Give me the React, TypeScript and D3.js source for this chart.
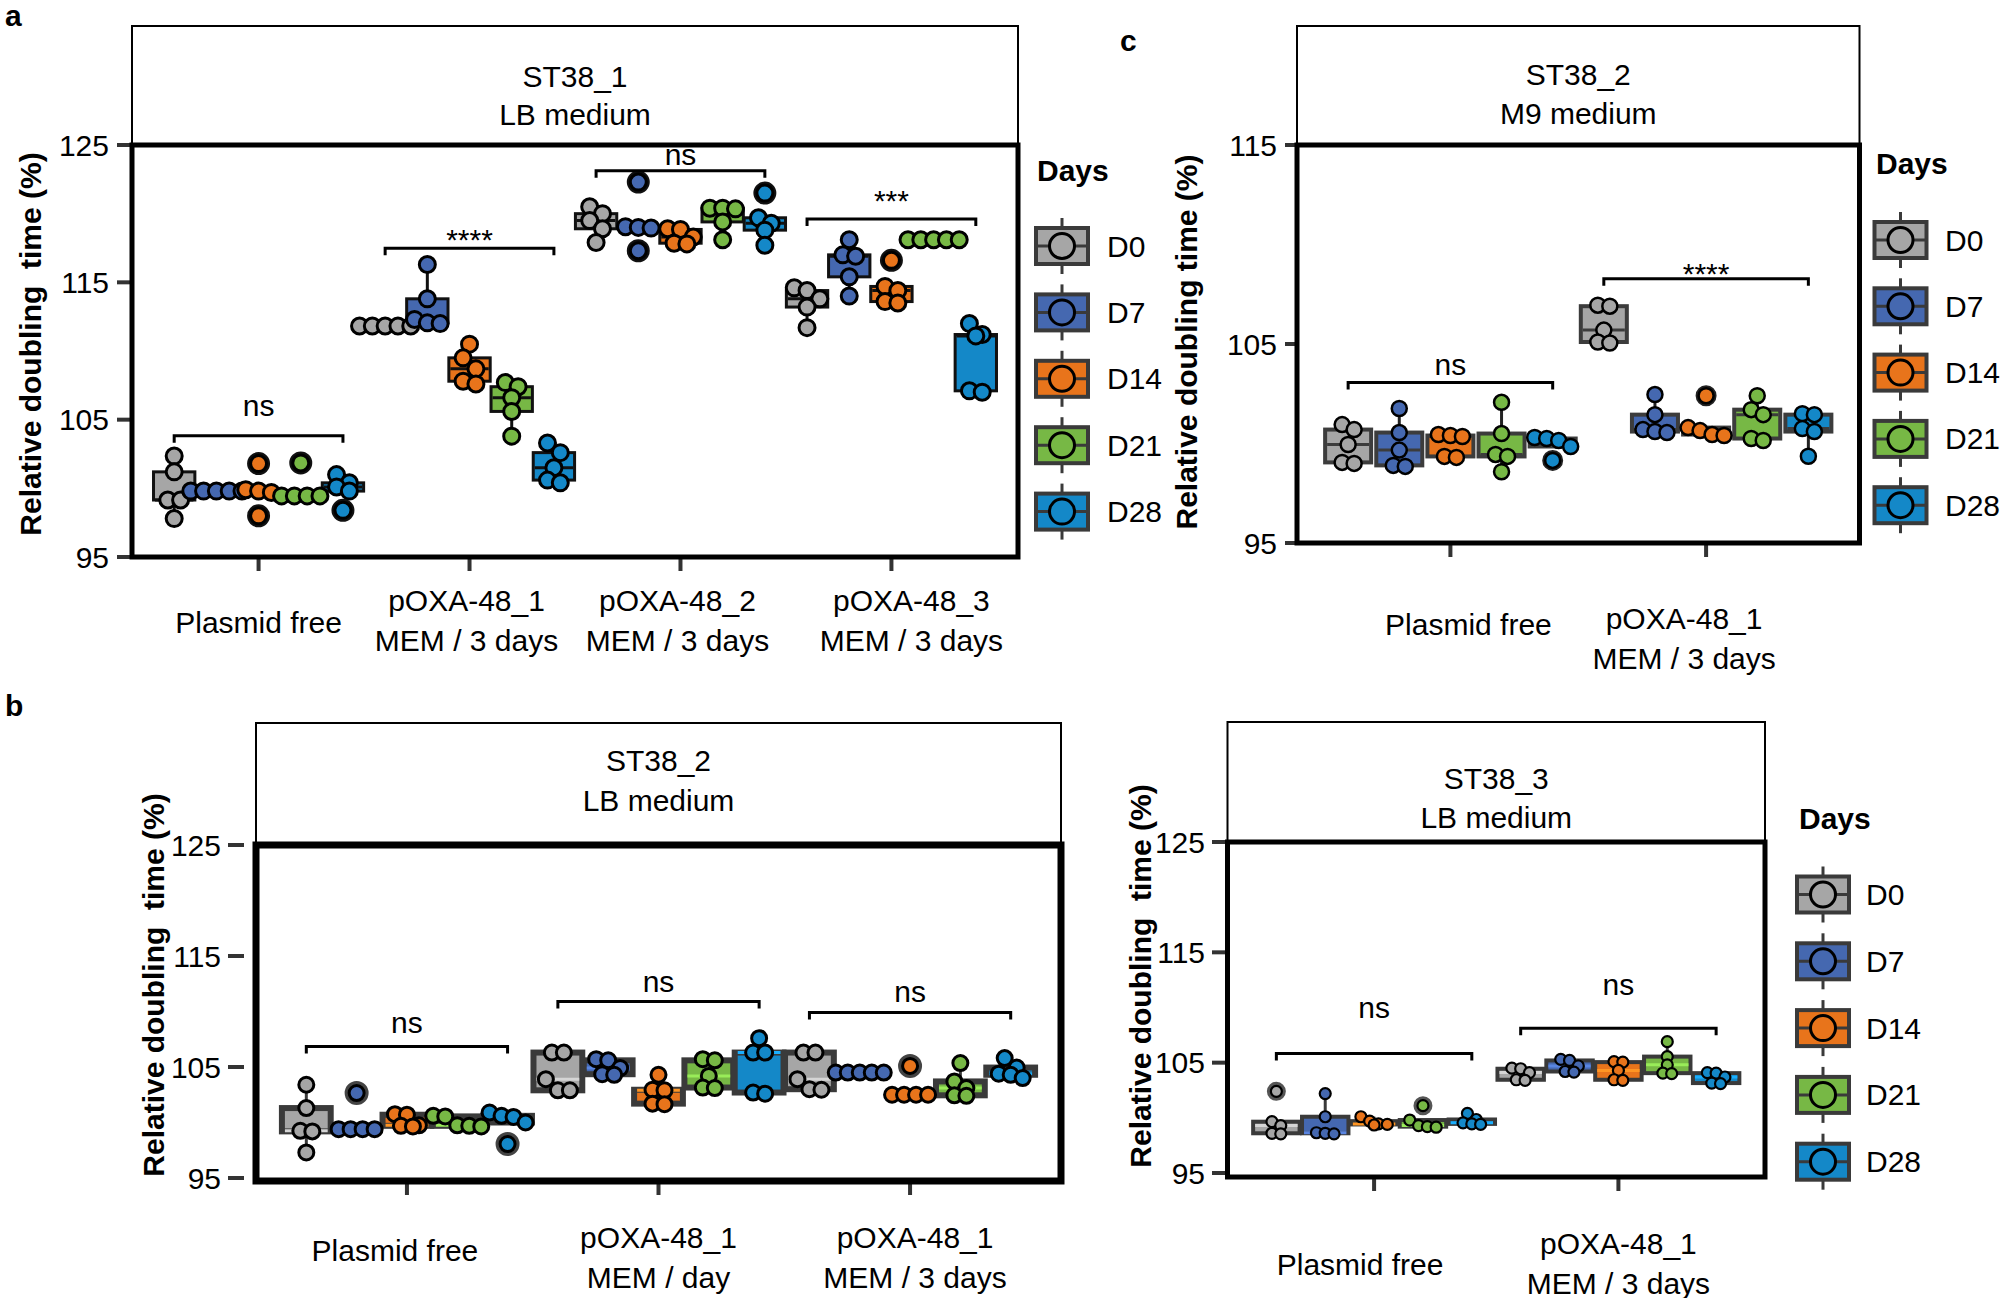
import * as d3 from "d3";

const FONT = "'Liberation Sans', Arial, Helvetica, sans-serif";

// ---- shared ----
const days = ["D0", "D7", "D14", "D21", "D28"];
const dayColors = ["#a6a6a6", "#4568b0", "#e8741b", "#77b845", "#1488c8"];

// ---- panel a : ST38_1, LB medium ----
const aCategories = [["Plasmid free"], ["pOXA-48_1", "MEM / 3 days"], ["pOXA-48_2", "MEM / 3 days"], ["pOXA-48_3", "MEM / 3 days"]];
const aTicks = [95, 105, 115, 125];
const aValues = [
  [[102.35, 101.2, 99.15, 99.15, 97.8], [99.8, 99.8, 99.8, 99.8, 99.8], [101.8, 99.9, 99.8, 99.7, 98.0], [101.85, 99.45, 99.45, 99.45, 99.45], [101.0, 100.4, 100.1, 99.8, 98.4]],
  [[111.82, 111.82, 111.82, 111.82, 111.82], [116.3, 113.8, 112.3, 112.05, 112.0], [110.5, 109.5, 108.7, 107.8, 107.6], [107.7, 107.4, 106.6, 105.6, 103.8], [103.3, 102.6, 101.5, 100.6, 100.4]],
  [[120.5, 120.0, 119.5, 118.9, 117.9], [122.3, 119.05, 119.0, 118.95, 117.3], [118.9, 118.85, 118.3, 117.85, 117.8], [120.4, 120.4, 120.35, 119.4, 118.1], [121.5, 119.7, 119.3, 118.8, 117.7]],
  [[114.6, 114.4, 113.8, 113.2, 111.7], [118.1, 117.0, 116.9, 115.4, 114.0], [116.6, 114.7, 114.4, 113.6, 113.5], [118.1, 118.1, 118.1, 118.1, 118.1], [112.0, 111.2, 111.1, 107.1, 107.0]],
];
const aSignif = [
  { cat: 0, y: 103.83, labelY: 105.26, label: "ns" },
  { cat: 1, y: 117.48, labelY: 117.35, label: "****" },
  { cat: 2, y: 123.13, labelY: 123.54, label: "ns" },
  { cat: 3, y: 119.61, labelY: 120.19, label: "***" },
];

// ---- panel c : ST38_2, M9 medium ----
const cCategories = [["Plasmid free"], ["pOXA-48_1", "MEM / 3 days"]];
const cTicks = [95, 105, 115];
const cValues = [
  [[100.95, 100.7, 99.95, 99.05, 99.0], [101.76, 100.55, 99.67, 98.9, 98.85], [100.45, 100.4, 100.35, 99.35, 99.3], [102.07, 100.5, 99.45, 99.35, 98.58], [100.3, 100.25, 100.15, 99.85, 99.15]],
  [[106.95, 106.9, 105.7, 105.1, 105.05], [102.46, 101.45, 100.7, 100.6, 100.55], [102.4, 100.8, 100.65, 100.45, 100.4], [102.4, 101.7, 101.45, 100.25, 100.15], [101.5, 101.45, 100.75, 100.6, 99.36]],
];
const cSignif = [
  { cat: 0, y: 103.07, labelY: 103.44, label: "ns" },
  { cat: 1, y: 108.28, labelY: 108.03, label: "****" },
];

// ---- panel b (left) : ST38_2, LB medium ----
const bCategories = [["Plasmid free"], ["pOXA-48_1", "MEM / day"], ["pOXA-48_1", "MEM / 3 days"]];
const bTicks = [95, 105, 115, 125];
const bValues = [
  [[103.4, 101.3, 99.25, 99.2, 97.3], [102.65, 99.4, 99.4, 99.4, 99.4], [100.75, 100.7, 99.75, 99.7, 99.65], [100.6, 100.55, 99.75, 99.7, 99.65], [100.9, 100.6, 100.5, 100.0, 98.06]],
  [[106.3, 106.3, 103.9, 102.9, 102.9], [105.7, 105.6, 104.9, 104.35, 104.3], [104.3, 102.95, 102.9, 101.7, 101.65], [105.7, 105.6, 104.2, 103.15, 103.1], [107.6, 106.3, 106.3, 102.7, 102.6]],
  [[106.3, 106.3, 103.9, 103.0, 102.95], [104.5, 104.5, 104.5, 104.5, 104.5], [105.1, 102.5, 102.5, 102.5, 102.5], [105.35, 103.7, 103.1, 102.45, 102.4], [105.8, 104.95, 104.4, 104.3, 104.0]],
];
const bSignif = [
  { cat: 0, y: 106.85, labelY: 108.05, label: "ns" },
  { cat: 1, y: 110.9, labelY: 111.8, label: "ns" },
  { cat: 2, y: 109.9, labelY: 110.9, label: "ns" },
];

// ---- panel b (right) : ST38_3, LB medium ----
const dCategories = [["Plasmid free"], ["pOXA-48_1", "MEM / 3 days"]];
const dTicks = [95, 105, 115, 125];
const dValues = [
  [[102.4, 99.65, 99.3, 98.6, 98.55], [102.2, 100.1, 98.65, 98.6, 98.55], [100.1, 99.7, 99.45, 99.4, 99.35], [101.1, 99.8, 99.3, 99.2, 99.15], [100.4, 99.85, 99.55, 99.45, 99.4]],
  [[104.5, 104.45, 104.1, 103.45, 103.4], [105.3, 105.2, 104.7, 104.2, 104.15], [105.1, 105.05, 104.3, 103.45, 103.4], [106.9, 105.55, 104.8, 104.05, 104.0], [104.1, 104.05, 103.7, 103.15, 103.1]],
];
const dSignif = [
  { cat: 0, y: 105.84, labelY: 109.04, label: "ns" },
  { cat: 1, y: 108.11, labelY: 111.13, label: "ns" },
];

type Signif = { cat: number; y: number; labelY: number; label: string };
type PanelStyle = {
  boxStroke: string; boxW: number; median: "dark" | "light"; whisker: string;
  r: number; pointW: number; outR: number; outFill: string; outStroke: string; frameW: number;
};
type LegendPos = { titleX: number; titleY: number; keyX: number; keyY: number; step: number; labelX: number };
type PanelProps = {
  letter: string; letterX: number; letterY: number;
  strip: string[]; stripTop: number; stripTextY: number[];
  frame: { x0: number; x1: number; y0: number; y1: number };
  yDomain: [number, number]; yRange: [number, number];
  ticks: number[]; tickLabelRight: number; tickX: [number, number];
  categories: string[][]; values: number[][][]; signif: Signif[];
  labelDx: number[]; labelSingleY: number; labelDoubleY: number;
  title: string; titleX: number; titleY: number;
  boxFrac: number; st: PanelStyle; legend?: LegendPos;
};

function boxStats(vals: number[]) {
  const s = vals.slice().sort(d3.ascending);
  const q1 = d3.quantile(s, 0.25)!;
  const med = d3.quantile(s, 0.5)!;
  const q3 = d3.quantile(s, 0.75)!;
  const iqr = q3 - q1;
  const inside = s.filter((v) => v >= q1 - 1.5 * iqr - 1e-9 && v <= q3 + 1.5 * iqr + 1e-9);
  const out = s.filter((v) => !inside.includes(v));
  return { q1, med, q3, lo: d3.min(inside)!, hi: d3.max(inside)!, out };
}

// centred rows of points: values closer than ~1.5 radius share a row
function swarm(vals: number[], y: (v: number) => number, r: number) {
  const s = vals.slice().sort(d3.descending);
  const rows: number[][] = [];
  s.forEach((v) => {
    const row = rows[rows.length - 1];
    if (row && Math.abs(y(v) - y(row[0])) < r * 1.5) row.push(v);
    else rows.push([v]);
  });
  return rows.flatMap((row) => row.map((v, j) => ({ v, dx: (j - (row.length - 1) / 2) * r * 1.6 })));
}

function Legend({ pos }: { pos: LegendPos }) {
  const kw = 52, kh = 36;
  return (
    <g fontFamily={FONT}>
      <text x={pos.titleX} y={pos.titleY} fontSize={30} fontWeight="bold" dominantBaseline="central">Days</text>
      {days.map((d, i) => {
        const cy = pos.keyY + i * pos.step;
        const cx = pos.keyX;
        return (
          <g key={d}>
            <line x1={cx} x2={cx} y1={cy - kh / 2 - 10} y2={cy + kh / 2 + 10} stroke="#3a3a3a" strokeWidth={3} />
            <rect x={cx - kw / 2} y={cy - kh / 2} width={kw} height={kh} fill={dayColors[i]} stroke="#3a3a3a" strokeWidth={4} />
            <line x1={cx - kw / 2} x2={cx + kw / 2} y1={cy} y2={cy} stroke="#3a3a3a" strokeWidth={3} />
            <circle cx={cx} cy={cy} r={12.5} fill={dayColors[i]} stroke="#000" strokeWidth={3} />
            <text x={pos.labelX} y={cy} fontSize={30} dominantBaseline="central">{d}</text>
          </g>
        );
      })}
    </g>
  );
}

function Panel(p: PanelProps) {
  const { frame, st } = p;
  const n = p.categories.length;
  const x = d3.scaleLinear().domain([-0.6, n - 0.4]).range([frame.x0, frame.x1]);
  const y = d3.scaleLinear().domain(p.yDomain).range(p.yRange);
  const dodges = p.categories.map((_, i) =>
    d3.scaleBand<string>().domain(days).range([x(i - 0.5), x(i + 0.5)])
  );
  const centre = (i: number, k: number) => dodges[i](days[k])! + dodges[i].bandwidth() / 2;
  const boxes: JSX.Element[] = [];
  const points: JSX.Element[] = [];

  p.values.forEach((group, i) => {
    group.forEach((vals, k) => {
      const cx = centre(i, k);
      const w = dodges[i].bandwidth() * p.boxFrac;
      const s = boxStats(vals);
      const fill = dayColors[k];
      const medColor = st.median === "dark" ? st.boxStroke : d3.color(fill)!.brighter(0.7).formatHex();
      boxes.push(
        <g key={`b${i}-${k}`}>
          <line x1={cx} x2={cx} y1={y(s.hi)} y2={y(s.q3)} stroke={st.whisker} strokeWidth={3} />
          <line x1={cx} x2={cx} y1={y(s.q1)} y2={y(s.lo)} stroke={st.whisker} strokeWidth={3} />
          <rect x={cx - w / 2} y={y(s.q3)} width={w} height={Math.max(0, y(s.q1) - y(s.q3))} fill={fill} stroke={st.boxStroke} strokeWidth={st.boxW} />
          <line x1={cx - w / 2 + st.boxW / 2} x2={cx + w / 2 - st.boxW / 2} y1={y(s.med)} y2={y(s.med)} stroke={medColor} strokeWidth={3} />
        </g>
      );
      swarm(vals, y, st.r).forEach((pt, j) => {
        const isOut = s.out.includes(pt.v);
        points.push(
          <g key={`p${i}-${k}-${j}`}>
            {isOut && (
              <circle cx={cx + pt.dx} cy={y(pt.v)} r={st.r + st.outR} fill={st.outFill} stroke={st.outStroke} strokeWidth={2} />
            )}
            <circle cx={cx + pt.dx} cy={y(pt.v)} r={st.r} fill={fill} stroke="#000" strokeWidth={st.pointW} />
          </g>
        );
      });
    });
  });

  const stripCx = (frame.x0 + frame.x1) / 2;

  return (
    <g fontFamily={FONT}>
      <text x={p.letterX} y={p.letterY} fontSize={30} fontWeight="bold">{p.letter}</text>
      {/* strip */}
      <rect x={frame.x0} y={p.stripTop} width={frame.x1 - frame.x0} height={frame.y0 - p.stripTop} fill="#fff" stroke="#000" strokeWidth={2} />
      {p.strip.map((t, i) => (
        <text key={t} x={stripCx} y={p.stripTextY[i]} fontSize={30} textAnchor="middle" dominantBaseline="central">{t}</text>
      ))}
      {/* y axis */}
      {p.ticks.map((t) => (
        <g key={t}>
          <line x1={p.tickX[0]} x2={p.tickX[1]} y1={y(t)} y2={y(t)} stroke="#333" strokeWidth={4} />
          <text x={p.tickLabelRight} y={y(t)} fontSize={30} textAnchor="end" dominantBaseline="central">{t}</text>
        </g>
      ))}
      <text
        transform={`translate(${p.titleX},${p.titleY}) rotate(-90)`}
        fontSize={30}
        fontWeight="bold"
        textAnchor="middle"
        dominantBaseline="central"
        style={{ whiteSpace: "pre" }}
      >
        {p.title}
      </text>
      {/* x axis */}
      {p.categories.map((lines, i) => (
        <g key={i}>
          <line x1={x(i)} x2={x(i)} y1={frame.y1} y2={frame.y1 + 14} stroke="#333" strokeWidth={4} />
          {lines.map((t, j) => (
            <text
              key={j}
              x={x(i) + p.labelDx[i]}
              y={lines.length === 1 ? p.labelSingleY : p.labelDoubleY + j * 40}
              fontSize={30}
              textAnchor="middle"
              dominantBaseline="central"
            >
              {t}
            </text>
          ))}
        </g>
      ))}
      {/* data */}
      {boxes}
      {points}
      {/* significance */}
      {p.signif.map((s) => {
        const xa = centre(s.cat, 0);
        const xb = centre(s.cat, days.length - 1);
        const yy = y(s.y);
        return (
          <g key={s.cat}>
            <path d={`M${xa},${yy + 7}V${yy}H${xb}V${yy + 7}`} fill="none" stroke="#000" strokeWidth={3} />
            <text x={(xa + xb) / 2} y={y(s.labelY)} fontSize={30} textAnchor="middle">{s.label}</text>
          </g>
        );
      })}
      {/* panel frame */}
      <rect x={frame.x0} y={frame.y0} width={frame.x1 - frame.x0} height={frame.y1 - frame.y0} fill="none" stroke="#000" strokeWidth={st.frameW} />
      {p.legend && <Legend pos={p.legend} />}
    </g>
  );
}

const styleA: PanelStyle = { boxStroke: "#111", boxW: 3, median: "dark", whisker: "#111", r: 8, pointW: 3, outR: 2.5, outFill: "#111", outStroke: "#111", frameW: 5 };
const styleC: PanelStyle = { boxStroke: "#3c3c3c", boxW: 4, median: "dark", whisker: "#222", r: 7.5, pointW: 2.5, outR: 2, outFill: "#222", outStroke: "#222", frameW: 5 };
const styleB: PanelStyle = { boxStroke: "#3a3a3a", boxW: 6, median: "light", whisker: "#3a3a3a", r: 7.5, pointW: 3, outR: 3.5, outFill: "#444", outStroke: "#444", frameW: 7 };
const styleD: PanelStyle = { boxStroke: "#3a3a3a", boxW: 4, median: "light", whisker: "#3a3a3a", r: 5.5, pointW: 2.2, outR: 3, outFill: "#555", outStroke: "#555", frameW: 5 };

export default function App() {
  return (
    <svg width={2000} height={1298} viewBox="0 0 2000 1298" style={{ position: "absolute", left: 0, top: 0, background: "#fff" }}>
      <Panel
        letter="a" letterX={5} letterY={26}
        strip={["ST38_1", "LB medium"]} stripTop={26} stripTextY={[76.5, 114]}
        frame={{ x0: 132, x1: 1018, y0: 145, y1: 557 }}
        yDomain={[95, 125]} yRange={[557, 145]}
        ticks={aTicks} tickLabelRight={109} tickX={[117, 132]}
        categories={aCategories} values={aValues} signif={aSignif}
        labelDx={[0, -3, -3, 20]} labelSingleY={622} labelDoubleY={600}
        title="Relative doubling  time (%)" titleX={30} titleY={344}
        boxFrac={0.98} st={styleA}
        legend={{ titleX: 1037, titleY: 170, keyX: 1062, keyY: 246, step: 66.4, labelX: 1107 }}
      />
      <Panel
        letter="c" letterX={1120} letterY={51}
        strip={["ST38_2", "M9 medium"]} stripTop={26} stripTextY={[74.6, 113.6]}
        frame={{ x0: 1297, x1: 1859.5, y0: 145, y1: 543 }}
        yDomain={[95, 115]} yRange={[543, 145]}
        ticks={cTicks} tickLabelRight={1277} tickX={[1285, 1297]}
        categories={cCategories} values={cValues} signif={cSignif}
        labelDx={[18, -22]} labelSingleY={624} labelDoubleY={618}
        title="Relative doubling time (%)" titleX={1186} titleY={342}
        boxFrac={0.9} st={styleC}
        legend={{ titleX: 1876, titleY: 163, keyX: 1900.5, keyY: 240, step: 66.3, labelX: 1945 }}
      />
      <Panel
        letter="b" letterX={5} letterY={716}
        strip={["ST38_2", "LB medium"]} stripTop={723} stripTextY={[760, 800]}
        frame={{ x0: 256, x1: 1061, y0: 845, y1: 1181 }}
        yDomain={[95, 125]} yRange={[1178, 845]}
        ticks={bTicks} tickLabelRight={221} tickX={[228, 244]}
        categories={bCategories} values={bValues} signif={bSignif}
        labelDx={[-12, 0, 5]} labelSingleY={1250} labelDoubleY={1237}
        title="Relative doubling  time (%)" titleX={153} titleY={985}
        boxFrac={0.97} st={styleB}
      />
      <Panel
        letter="" letterX={0} letterY={0}
        strip={["ST38_3", "LB medium"]} stripTop={722} stripTextY={[778, 817]}
        frame={{ x0: 1227.5, x1: 1765, y0: 842, y1: 1177 }}
        yDomain={[95, 125]} yRange={[1173, 842]}
        ticks={dTicks} tickLabelRight={1205} tickX={[1212, 1227]}
        categories={dCategories} values={dValues} signif={dSignif}
        labelDx={[-14, 0]} labelSingleY={1264} labelDoubleY={1243}
        title="Relative doubling  time (%)" titleX={1140} titleY={976}
        boxFrac={0.95} st={styleD}
        legend={{ titleX: 1799, titleY: 818, keyX: 1823, keyY: 894.5, step: 66.8, labelX: 1866 }}
      />
    </svg>
  );
}
